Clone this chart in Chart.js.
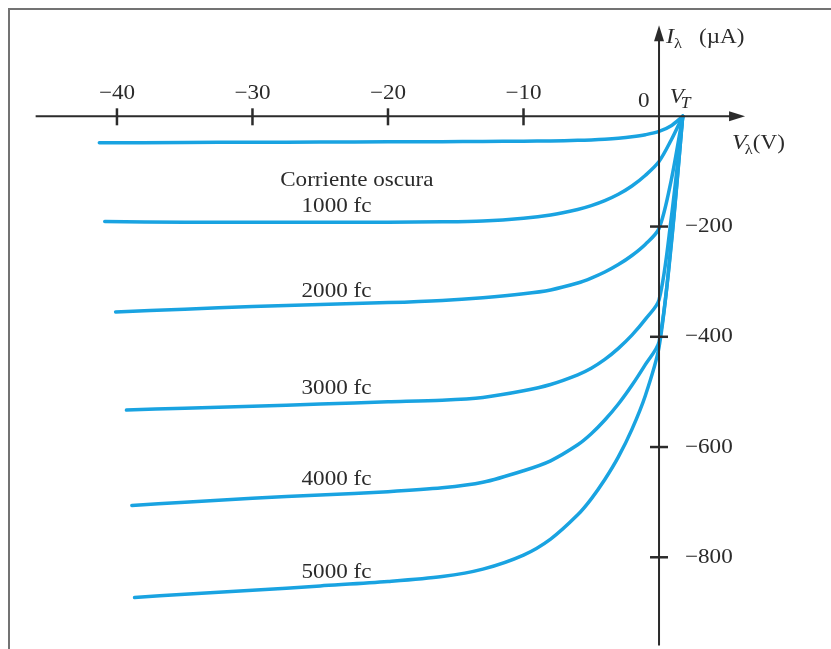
<!DOCTYPE html>
<html lang="es">
<head>
<meta charset="UTF-8">
<title>Fotodiodo - curvas características</title>
<script src="https://cdn.jsdelivr.net/npm/chart.js"></script>
<style>
  html, body { margin: 0; padding: 0; background: #fff; }
  #wrap { position: relative; width: 831px; height: 649px; }
</style>
</head>
<body>
<div id="wrap"><canvas id="chart" width="831" height="649"></canvas></div>
<script>
  // curves: voltage (V) and current (µA)
  const darkV = [-41.3, -35, -30, -25, -20, -16, -13, -10, -8, -6, -5, -4, -3, -2, -1, 0, 0.9, 1.75];
  const darkI = [-48, -47.5, -47, -46.7, -46.3, -46, -45.6, -45.2, -44.6, -43.6, -42.8, -41.6, -39.8, -37.2, -33.4, -27.5, -17, 0];

  const fc1000V = [-40.9, -35, -30, -25, -20, -16, -13, -10, -8, -6, -5, -4, -3, -2, -1, 0, 0.9, 1.75];
  const fc1000I = [-191, -192, -192, -192, -192, -191.5, -190, -185, -179, -169, -162, -153, -141.5, -126.5, -107, -82, -43, 0];

  const fc2000V = [-40.1, -35, -30, -25, -20, -16, -13, -10, -8, -6, -5, -4, -3, -2, -1, 0, 0.9, 1.75];
  const fc2000I = [-355, -350, -345, -341.5, -338, -334, -329, -322, -315, -302.5, -293.5, -282.5, -269, -252.5, -232, -203.5, -116, 0];

  const fc3000V = [-39.3, -35, -30, -25, -20, -16, -13, -10, -8, -6, -5, -4, -3, -2, -1, 0, 0.9, 1.75];
  const fc3000I = [-533, -529.5, -526, -522, -518, -515, -510, -498, -486.5, -469, -457, -441, -421, -397, -368, -333, -185, 0];

  const fc4000V = [-38.9, -35, -30, -25, -20, -16, -13, -10, -8, -6, -5, -4, -3, -2, -1, 0, 0.9, 1.75];
  const fc4000I = [-706, -700, -693, -687, -681, -674, -664, -643, -625, -596, -576, -551, -522, -488, -450, -409, -230, 0];

  const fc5000V = [-38.7, -35, -30, -25, -20, -16, -13, -10, -8, -6, -5, -4, -3, -2, -1, 0, 0.9, 1.75];
  const fc5000I = [-873, -867, -860, -852, -844, -835, -821.5, -796, -767, -723, -694, -659, -618, -568, -506, -419, -234, 0];

  const seriesNames = ['Corriente oscura', '1000 fc', '2000 fc', '3000 fc', '4000 fc', '5000 fc'];
  const labelV = [-22.3, -23.8, -23.8, -23.8, -23.8, -23.8];
  const labelI = [-116, -163, -318, -494, -658, -828];

  const xTicks = [-40, -30, -20, -10];
  const yTicks = [-200, -400, -600, -800];
  const VT = 1.75;

  const allV = [darkV, fc1000V, fc2000V, fc3000V, fc4000V, fc5000V];
  const allI = [darkI, fc1000I, fc2000I, fc3000I, fc4000I, fc5000I];

  const BLUE = '#19a3e1';
  const INK = '#2b2b2b';
  const SERIF = '"Liberation Serif", "Times New Roman", serif';
  const STRETCH = 1.1; // the scanned figure is a bit wider than normal type

  function txt(ctx, s, x, y, size, opts = {}) {
    ctx.save();
    ctx.font = (opts.italic ? 'italic ' : '') + size + 'px ' + SERIF;
    ctx.textAlign = opts.align || 'left';
    ctx.textBaseline = opts.baseline || 'alphabetic';
    ctx.fillStyle = INK;
    ctx.translate(x, y);
    ctx.scale(STRETCH, 1);
    ctx.fillText(s, 0, 0);
    const w = ctx.measureText(s).width * STRETCH;
    ctx.restore();
    return w;
  }

  const axesPlugin = {
    id: 'axes',
    beforeDraw(chart) {
      const ctx = chart.ctx;
      // grey frame of the scanned picture
      ctx.save();
      ctx.fillStyle = '#737373';
      ctx.fillRect(8, 8, chart.width - 8, 2);
      ctx.fillRect(8, 8, 2, chart.height - 8);
      ctx.restore();
    },
    afterDatasetsDraw(chart) {
      const ctx = chart.ctx;
      const xs = chart.scales.x, ys = chart.scales.y;
      const x0 = xs.getPixelForValue(0), y0 = ys.getPixelForValue(0);

      ctx.save();
      ctx.strokeStyle = INK;
      ctx.fillStyle = INK;
      ctx.lineWidth = 2;

      // horizontal axis with arrow
      const xa = xs.getPixelForValue(-46), xb = xs.getPixelForValue(6.35);
      ctx.beginPath();
      ctx.moveTo(xa, y0); ctx.lineTo(xb - 8, y0);
      ctx.stroke();
      ctx.beginPath();
      ctx.moveTo(xb, y0); ctx.lineTo(xb - 16, y0 - 5); ctx.lineTo(xb - 16, y0 + 5);
      ctx.closePath(); ctx.fill();

      // vertical axis with arrow
      const ya = ys.getPixelForValue(165), yb = ys.getPixelForValue(-960);
      ctx.beginPath();
      ctx.moveTo(x0, ya + 8); ctx.lineTo(x0, yb);
      ctx.stroke();
      ctx.beginPath();
      ctx.moveTo(x0, ya); ctx.lineTo(x0 - 5, ya + 16); ctx.lineTo(x0 + 5, ya + 16);
      ctx.closePath(); ctx.fill();

      // ticks
      ctx.lineWidth = 2.5;
      xTicks.forEach(v => {
        const px = xs.getPixelForValue(v);
        ctx.beginPath(); ctx.moveTo(px, y0 - 8); ctx.lineTo(px, y0 + 9); ctx.stroke();
        txt(ctx, '\u2212' + Math.abs(v), px, y0 - 17, 21, { align: 'center' });
      });
      yTicks.forEach(v => {
        const py = ys.getPixelForValue(v);
        ctx.beginPath(); ctx.moveTo(x0 - 9, py); ctx.lineTo(x0 + 9, py); ctx.stroke();
        txt(ctx, '\u2212' + Math.abs(v), x0 + 26, py, 21, { baseline: 'middle' });
      });
      ctx.restore();

      // origin and V_T
      txt(ctx, '0', x0 - 21, y0 - 9, 21);
      const xt = xs.getPixelForValue(VT);
      let w = txt(ctx, 'V', xt - 13, y0 - 13, 21, { italic: true });
      txt(ctx, 'T', xt - 13 + w - 3, y0 - 8, 16, { italic: true });

      // axis titles
      w = txt(ctx, 'I', x0 + 7, 43, 22, { italic: true });
      txt(ctx, '\u03bb', x0 + 7 + w, 48, 15);
      txt(ctx, '(\u00b5A)', x0 + 40, 43, 21);

      w = txt(ctx, 'V', 732, y0 + 33, 22, { italic: true });
      w += txt(ctx, '\u03bb', 732 + w - 2, y0 + 38, 15);
      txt(ctx, '(V)', 732 + w - 2, y0 + 33, 21);

      // curve names
      seriesNames.forEach((name, i) => {
        txt(ctx, name, xs.getPixelForValue(labelV[i]), ys.getPixelForValue(labelI[i]), 21,
          { align: 'center', baseline: 'middle' });
      });
    }
  };

  const datasets = seriesNames.map((name, i) => ({
    label: name,
    data: allV[i].map((v, k) => ({ x: v, y: allI[i][k] })),
    borderColor: BLUE,
    borderWidth: 3.5,
    pointRadius: 0,
    fill: false,
    tension: 0.3,
    borderCapStyle: 'round',
    borderJoinStyle: 'round'
  }));

  new Chart(document.getElementById('chart').getContext('2d'), {
    type: 'line',
    data: { datasets },
    options: {
      responsive: false,
      animation: false,
      devicePixelRatio: 1,
      layout: { padding: 0 },
      plugins: { legend: { display: false }, tooltip: { enabled: false } },
      scales: {
        x: { type: 'linear', min: -48.63, max: 12.69, display: false },
        y: { type: 'linear', min: -966.4, max: 211.0, display: false }
      }
    },
    plugins: [axesPlugin]
  });
</script>
</body>
</html>
